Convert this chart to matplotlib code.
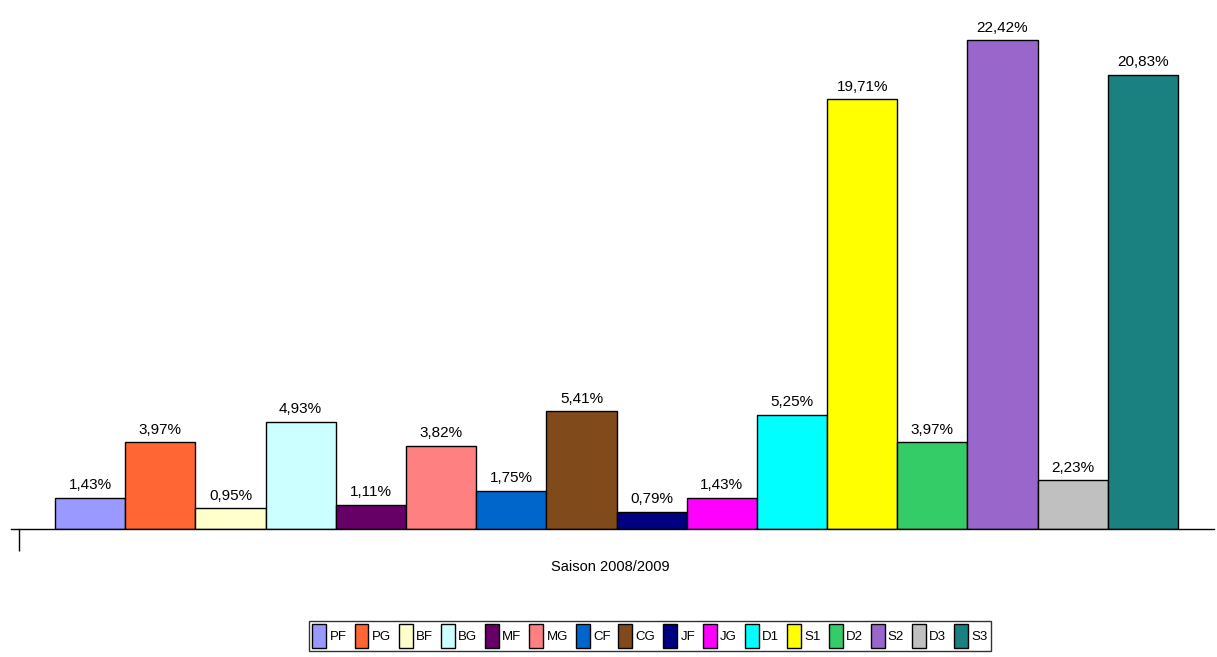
import matplotlib
matplotlib.use("Agg")
import matplotlib.pyplot as plt
from matplotlib.patches import Patch
from matplotlib import font_manager

categories = ["PF", "PG", "BF", "BG", "MF", "MG", "CF", "CG", "JF", "JG", "D1", "S1", "D2", "S2", "D3", "S3"]
values = [1.43, 3.97, 0.95, 4.93, 1.11, 3.82, 1.75, 5.41, 0.79, 1.43, 5.25, 19.71, 3.97, 22.42, 2.23, 20.83]
colors = ["#9999FF", "#FF6633", "#FFFFCC", "#CCFFFF", "#660066", "#FF8080", "#0066CC", "#804A1A",
          "#000080", "#FF00FF", "#00FFFF", "#FFFF00", "#33CC66", "#9966CC", "#C0C0C0", "#1A8080"]
xlabel = "Saison 2008/2009"

names = {f.name for f in font_manager.fontManager.ttflist}
fam = ["Liberation Sans Narrow", "DejaVu Sans"] if "Liberation Sans Narrow" in names else ["Liberation Sans", "DejaVu Sans"]
plt.rcParams['font.family'] = fam

W, H = 1217, 657
fig = plt.figure(figsize=(W / 100, H / 100), dpi=100)
ax = fig.add_axes([19 / W, 1 - 529 / H, (1214 - 19) / W, 529 / H])

x = list(range(len(values)))
ax.bar(x, values, width=1.0, color=colors, edgecolor="black", linewidth=1.0, zorder=2)
for xi, v in zip(x, values):
    ax.text(xi, v + 0.25, f"{v:.2f}%".replace(".", ","), ha="center", va="bottom", fontsize=11)

ax.set_xlim(-1.013, 16.013)
ax.set_ylim(0, 529 / 21.8)
for s in ["top", "right", "left"]:
    ax.spines[s].set_visible(False)
ax.spines["bottom"].set_linewidth(1.0)
ax.set_yticks([])
ax.set_xticks([-1.013])
ax.set_xticklabels([""])
ax.tick_params(axis="x", length=16, width=1.0, direction="out")
ax.plot([-1.013 - 8 / 70.2, -1.013], [0, 0], color="black", lw=1.0, clip_on=False)

fig.text(610 / W, 1 - 567 / H, xlabel, ha="center", va="center", fontsize=10.5)

handles = [Patch(facecolor=c, edgecolor="black", linewidth=1.0, label=n) for c, n in zip(colors, categories)]
leg = fig.legend(handles=handles, loc="center", bbox_to_anchor=(650 / W, 1 - 636 / H), ncol=16,
                 fontsize=9.5, handlelength=1.05, handleheight=2.4, handletextpad=0.25, columnspacing=0.6,
                 frameon=True, fancybox=False, borderpad=0.25, borderaxespad=0, edgecolor="black")
leg.get_frame().set_linewidth(1.0)

fig.savefig("out.png", dpi=100)
